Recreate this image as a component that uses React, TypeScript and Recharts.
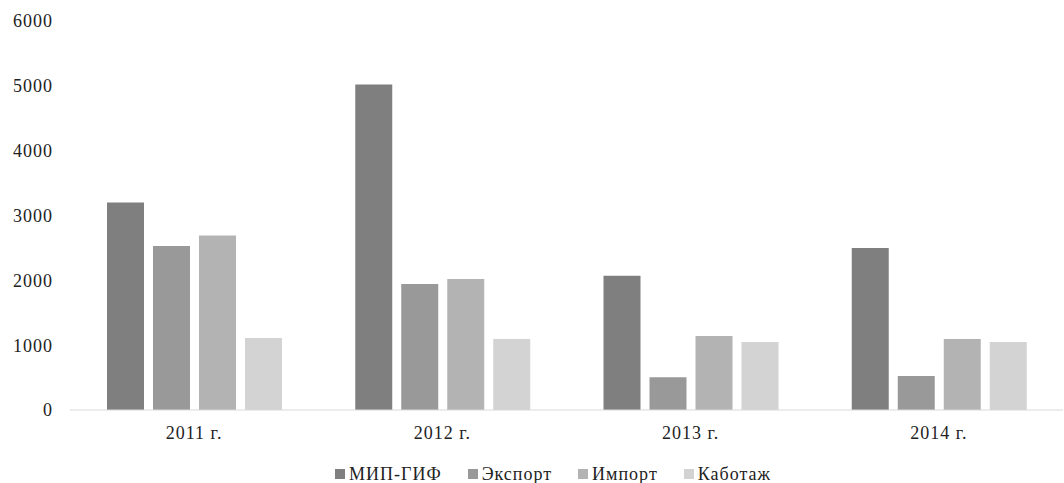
import { BarChart, Bar, XAxis, YAxis, Legend } from 'recharts'

const categories = ['2011 г.', '2012 г.', '2013 г.', '2014 г.']
const mipGif = [3200, 5020, 2070, 2500]
const eksport = [2530, 1945, 505, 525]
const import_ = [2690, 2020, 1140, 1095]
const kabotazh = [1110, 1095, 1050, 1050]
const yTicks = [0, 1000, 2000, 3000, 4000, 5000, 6000]

const SERIES = [
  { key: 'mip', name: 'МИП-ГИФ', color: '#7f7f7f' },
  { key: 'exp', name: 'Экспорт', color: '#999999' },
  { key: 'imp', name: 'Импорт', color: '#b3b3b3' },
  { key: 'kab', name: 'Каботаж', color: '#d3d3d3' },
]

const data = categories.map((c, i) => ({
  cat: c,
  mip: mipGif[i],
  exp: eksport[i],
  imp: import_[i],
  kab: kabotazh[i],
}))

const FONT = 'Liberation Serif'
const tickStyle = { fill: '#222', fontSize: 18, fontFamily: FONT, letterSpacing: 1 }

function renderLegend() {
  return (
    <div style={{ display: 'flex', justifyContent: 'center', gap: 26, height: 31, paddingTop: 15, boxSizing: 'border-box', paddingLeft: 42 }}>
      {SERIES.map(s => (
        <span key={s.key} style={{ display: 'flex', alignItems: 'center', fontFamily: FONT, fontSize: 18, letterSpacing: 1, color: '#222', lineHeight: '14px', height: 14 }}>
          <span style={{ width: 10, height: 10, background: s.color, marginRight: 4, display: 'inline-block' }} />
          {s.name}
        </span>
      ))}
    </div>
  )
}

export default function App() {
  return (
    <div style={{ position: 'absolute', left: 0, top: 0, width: 1064, height: 483, background: '#fff' }}>
      <BarChart width={1064} height={483} data={data} margin={{ top: 21, right: 1, bottom: 0, left: 1 }}
        barGap={9} barCategoryGap="15%">
        <XAxis dataKey="cat" tick={tickStyle} tickLine={false} axisLine={{ stroke: '#d9d9d9' }} height={42} tickMargin={10} />
        <YAxis domain={[0, 6000]} ticks={yTicks} tick={tickStyle} tickLine={false} axisLine={false} width={69} tickSize={6} tickMargin={11} interval={0} />
        <Legend verticalAlign="bottom" content={renderLegend} />
        {SERIES.map(s => (
          <Bar key={s.key} dataKey={s.key} name={s.name} fill={s.color} barSize={37} isAnimationActive={false} />
        ))}
      </BarChart>
    </div>
  )
}
